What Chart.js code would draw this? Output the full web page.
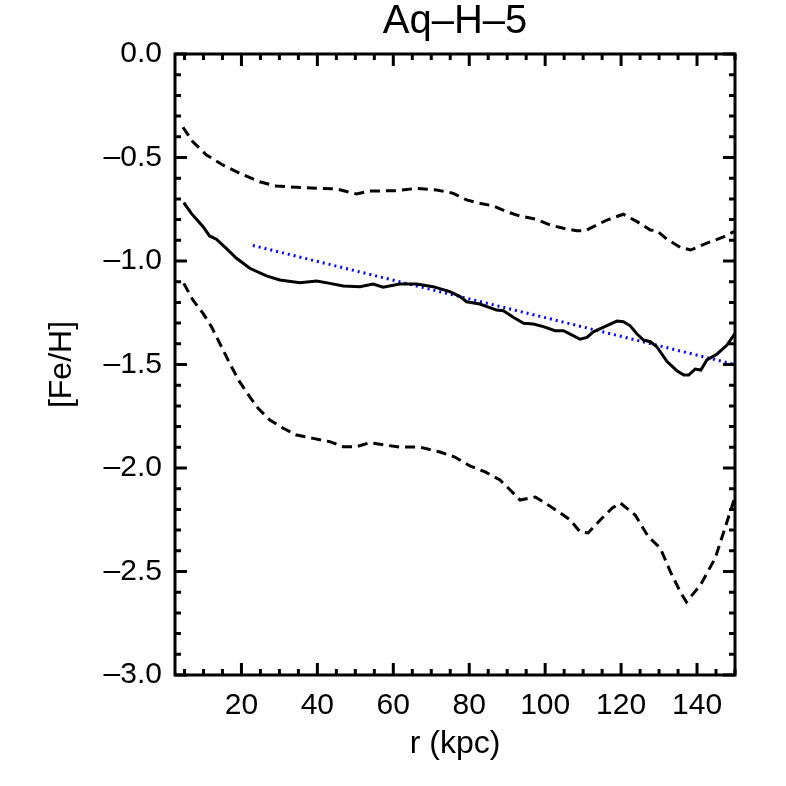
<!DOCTYPE html>
<html>
<head>
<meta charset="utf-8">
<script src="https://cdn.jsdelivr.net/npm/chart.js@4/dist/chart.umd.min.js"></script>
<style>
  html, body { margin: 0; padding: 0; background: #fff; }
  #wrap { width: 786px; height: 786px; }
</style>
</head>
<body>
<div id="wrap"><canvas id="chart" width="786" height="786"></canvas></div>
<script>
// median [Fe/H] profile (solid)
const medR = [4.8, 6.8, 9.9, 11.6, 13.4, 16.0, 18.7, 22.2, 26.6, 30.1, 35.4, 39.8, 43.3, 46.8, 51.2, 54.7, 57.3, 61.7, 66.1, 70.5, 74.9, 77.6, 79.3, 82.8, 87.2, 89.0, 91.6, 94.3, 96.9, 99.5, 102.6, 104.8, 106.6, 109.2, 111.0, 112.7, 115.4, 118.9, 120.6, 122.4, 124.2, 125.9, 127.7, 129.4, 132.1, 134.7, 136.5, 137.8, 139.5, 141.0, 142.6, 145.3, 147.9, 150.0];
const medFeH = [-0.718, -0.770, -0.834, -0.879, -0.895, -0.939, -0.987, -1.035, -1.072, -1.092, -1.105, -1.097, -1.108, -1.121, -1.124, -1.111, -1.127, -1.111, -1.111, -1.124, -1.148, -1.172, -1.197, -1.208, -1.237, -1.240, -1.272, -1.301, -1.304, -1.317, -1.337, -1.337, -1.353, -1.378, -1.369, -1.342, -1.320, -1.290, -1.293, -1.313, -1.353, -1.382, -1.390, -1.414, -1.486, -1.530, -1.551, -1.551, -1.522, -1.527, -1.478, -1.449, -1.406, -1.350];

// upper envelope (dashed)
const upR = [4.6, 7.2, 10.8, 15.1, 19.5, 24.8, 29.2, 34.5, 39.8, 45.0, 50.3, 53.8, 60.9, 66.1, 71.4, 75.8, 79.3, 82.0, 86.3, 89.9, 93.4, 97.8, 101.3, 104.8, 108.3, 110.5, 112.7, 116.3, 120.6, 124.2, 127.7, 129.4, 132.1, 135.6, 138.3, 142.6, 147.0, 150.0];
const upFeH = [-0.354, -0.424, -0.488, -0.536, -0.576, -0.617, -0.638, -0.644, -0.649, -0.652, -0.676, -0.662, -0.660, -0.649, -0.657, -0.673, -0.705, -0.718, -0.734, -0.762, -0.783, -0.799, -0.826, -0.842, -0.854, -0.854, -0.834, -0.802, -0.774, -0.810, -0.850, -0.854, -0.895, -0.934, -0.947, -0.914, -0.883, -0.855];

// lower envelope (dashed)
const loR = [4.8, 7.2, 9.9, 12.1, 14.3, 16.9, 19.5, 22.2, 24.4, 27.5, 31.0, 34.5, 38.9, 43.3, 46.8, 50.3, 53.8, 57.8, 61.7, 67.0, 72.3, 76.2, 80.2, 84.2, 88.1, 90.8, 93.4, 97.4, 100.8, 104.0, 106.6, 109.2, 111.3, 114.5, 117.7, 119.8, 123.7, 127.2, 130.3, 133.0, 135.6, 137.2, 140.9, 144.8, 150.0];
const loFeH = [-1.108, -1.188, -1.253, -1.317, -1.398, -1.494, -1.583, -1.656, -1.712, -1.768, -1.808, -1.841, -1.857, -1.873, -1.897, -1.897, -1.878, -1.889, -1.899, -1.899, -1.923, -1.947, -1.990, -2.019, -2.058, -2.106, -2.155, -2.140, -2.179, -2.217, -2.251, -2.309, -2.314, -2.251, -2.193, -2.169, -2.227, -2.333, -2.386, -2.502, -2.599, -2.647, -2.565, -2.435, -2.140];

// linear fit (blue dotted)
const fitR = [23.0, 150.0];
const fitFeH = [-0.925, -1.500];

// axes
const xMin = 2.5, xMax = 150;
const yMin = -3.0, yMax = 0.0;
const xTickVals = [20, 40, 60, 80, 100, 120, 140];
const yTickVals = [0.0, -0.5, -1.0, -1.5, -2.0, -2.5, -3.0];
const xMinorStep = 5, yMinorStep = 0.1;

const FONT = "'Liberation Sans', Arial, Helvetica, sans-serif";
Chart.defaults.font.family = FONT;
Chart.defaults.color = '#000';

function pts(xs, ys) {
  return xs.map((x, i) => ({ x: x, y: ys[i] }));
}

function fmtY(v) {
  if (Math.abs(v) < 1e-9) return '0.0';
  return v.toFixed(1).replace('-', '\u2013');
}

// IDL-style box with inward ticks on all four sides
const boxTicks = {
  id: 'boxTicks',
  afterDraw(chart) {
    const { ctx, chartArea: a, scales: { x, y } } = chart;
    ctx.save();
    ctx.strokeStyle = '#000';
    ctx.lineWidth = 3;
    ctx.lineCap = 'butt';
    ctx.beginPath();
    for (let v = Math.ceil(xMin / xMinorStep) * xMinorStep; v <= xMax + 1e-6; v += xMinorStep) {
      const px = x.getPixelForValue(v);
      const len = (Math.abs(v % 20) < 1e-6) ? 12 : 6;
      ctx.moveTo(px, a.bottom); ctx.lineTo(px, a.bottom - len);
      ctx.moveTo(px, a.top); ctx.lineTo(px, a.top + len);
    }
    for (let i = 0; i <= Math.round((yMax - yMin) / yMinorStep); i++) {
      const v = yMin + i * yMinorStep;
      const py = y.getPixelForValue(v);
      const len = (i % 5 === 0) ? 12 : 6;
      ctx.moveTo(a.left, py); ctx.lineTo(a.left + len, py);
      ctx.moveTo(a.right, py); ctx.lineTo(a.right - len, py);
    }
    ctx.stroke();
    ctx.lineWidth = 3;
    ctx.strokeRect(a.left, a.top, a.right - a.left, a.bottom - a.top);
    ctx.restore();
  }
};

new Chart(document.getElementById('chart'), {
  type: 'line',
  data: {
    datasets: [{
      label: 'upper',
      data: pts(upR, upFeH),
      borderColor: '#000',
      borderWidth: 3,
      borderDash: [10, 6]
    }, {
      label: 'lower',
      data: pts(loR, loFeH),
      borderColor: '#000',
      borderWidth: 3,
      borderDash: [10, 6]
    }, {
      label: 'median',
      data: pts(medR, medFeH),
      borderColor: '#000',
      borderWidth: 3
    }, {
      label: 'fit',
      data: pts(fitR, fitFeH),
      borderColor: '#0000ff',
      borderWidth: 3,
      borderDash: [2, 4]
    }]
  },
  options: {
    responsive: false,
    animation: false,
    devicePixelRatio: 1,
    elements: {
      point: { radius: 0 },
      line: { tension: 0, fill: false, borderCapStyle: 'butt' }
    },
    layout: { padding: { top: 0, right: 51, bottom: 0, left: 0 } },
    plugins: {
      legend: { display: false },
      tooltip: { enabled: false },
      title: {
        display: true,
        text: 'Aq\u2013H\u20135',
        fullSize: false,
        color: '#000',
        font: { size: 40, weight: 'normal', lineHeight: 1.1 },
        padding: { top: 0, bottom: 10 }
      }
    },
    scales: {
      x: {
        type: 'linear',
        min: xMin,
        max: xMax,
        grid: { display: false, drawTicks: false, tickLength: 0 },
        border: { display: false },
        afterBuildTicks: (s) => { s.ticks = xTickVals.map(v => ({ value: v })); },
        afterFit: (s) => { s.height = 111; },
        ticks: {
          padding: 13,
          maxRotation: 0,
          autoSkip: false,
          font: { size: 30 },
          color: '#000',
          callback: (v) => String(v)
        },
        title: {
          display: true,
          text: 'r (kpc)',
          font: { size: 32 },
          color: '#000',
          padding: { top: 0, bottom: 23 }
        }
      },
      y: {
        type: 'linear',
        min: yMin,
        max: yMax,
        grid: { display: false, drawTicks: false, tickLength: 0 },
        border: { display: false },
        afterBuildTicks: (s) => { s.ticks = yTickVals.map(v => ({ value: v })); },
        afterFit: (s) => { s.width = 175; },
        ticks: {
          padding: 13,
          autoSkip: false,
          font: { size: 30 },
          color: '#000',
          callback: (v) => fmtY(v)
        },
        title: {
          display: true,
          text: '[Fe/H]',
          font: { size: 32 },
          color: '#000',
          padding: { top: 43, bottom: 0 }
        }
      }
    }
  },
  plugins: [boxTicks]
});
</script>
</body>
</html>
